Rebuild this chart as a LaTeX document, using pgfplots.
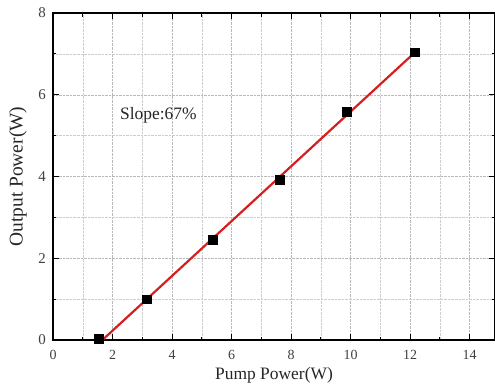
\documentclass[border=0pt]{standalone}
\usepackage{pgfplots}
\pgfplotsset{compat=1.18}
\usepackage{fontspec}
\setmainfont{Liberation Serif}
\newcommand{\xt}[1]{\fontsize{14}{16}\selectfont #1}
\newcommand{\yt}[1]{\fontsize{15}{17}\selectfont #1}
\begin{document}
\begin{tikzpicture}
\begin{axis}[name=ax,
  scale only axis, width=442bp, height=327bp,
  xmin=0, xmax=14.85, ymin=0, ymax=8,
  xtick={0,2,...,14}, ytick={0,2,...,8},
  xticklabels={\xt{0},\xt{2},\xt{4},\xt{6},\xt{8},\xt{10},\xt{12},\xt{14}},
  yticklabels={\yt{0},\yt{2},\yt{4},\yt{6},\yt{8}},
  minor xtick={1,3,...,13}, minor ytick={1,3,5,7},
  tick align=inside,
  major tick length=6bp, minor tick length=3.5bp,
  every tick/.style={black, line width=1pt},
  axis line style={line width=1.3pt},
  grid=both,
  major grid style={densely dotted, gray!55, line width=0.5pt},
  minor grid style={densely dotted, gray!40, line width=0.5pt},
  xticklabel style={text=black!75, anchor=center, yshift=-15bp},
  yticklabel style={text=black!75, anchor=center, xshift=-11bp},
  xlabel={Pump Power(W)}, ylabel={Output Power(W)},
  every axis x label/.style={at={(axis description cs:0.5,0)}, anchor=center, yshift=-35bp, font=\fontsize{17.5}{19}\selectfont, text=black!85},
  every axis y label/.style={at={(axis description cs:0,0.5)}, rotate=90, anchor=center, yshift=35bp, font=\fontsize{19.5}{21}\selectfont, text=black!85},
  clip=false,
]
\addplot[color={rgb,255:red,215;green,30;blue,30}, line width=2.2pt] coordinates {(1.66,0) (12.15,7.03)};
\addplot[only marks, mark=square*, mark size=4.3bp, black] coordinates {
(1.54,0.03) (3.15,1.0) (5.37,2.45) (7.62,3.92) (9.87,5.58) (12.15,7.04)};
\node[font=\fontsize{17.5}{19}\selectfont, text=black!85] at (axis cs:3.54,5.5) {Slope:67\%};
\end{axis}
\pgfresetboundingbox
\path ([shift={(-53bp,-45bp)}]ax.south west) rectangle ([shift={(0bp,13bp)}]ax.north east);
\end{tikzpicture}
\end{document}
